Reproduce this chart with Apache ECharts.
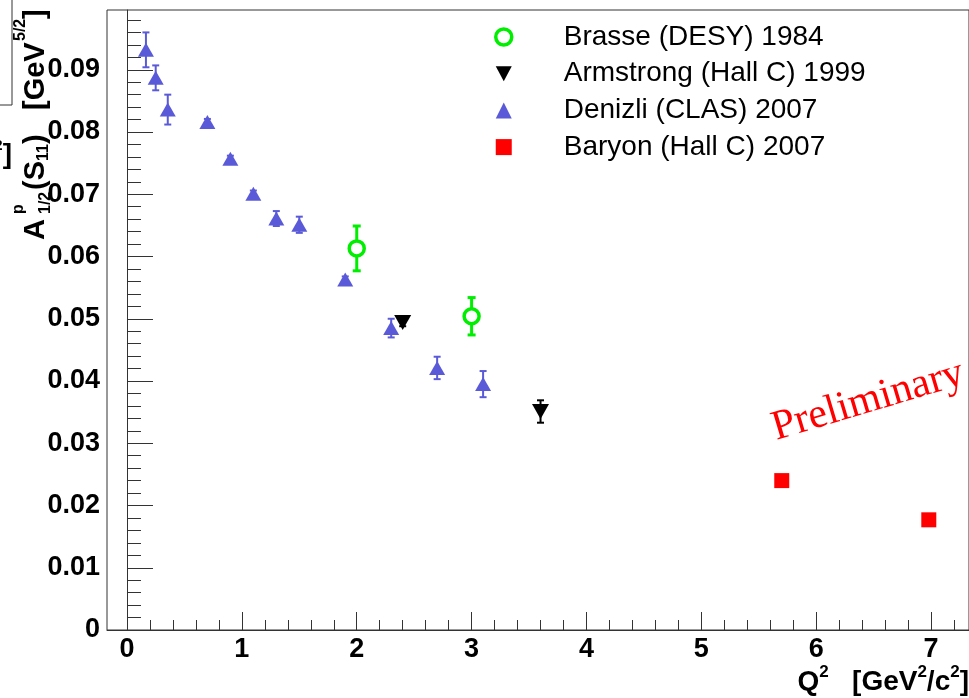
<!DOCTYPE html>
<html><head><meta charset="utf-8">
<script src="https://cdn.jsdelivr.net/npm/echarts@6/dist/echarts.min.js"></script>
<style>html,body{margin:0;padding:0;background:#fff}#c{width:969px;height:698px}</style>
</head><body><div id="c"></div>
<script>
// ---- data (Q^2 in GeV^2/c^2, A_1/2 in GeV^-1/2) ----
const brasseQ2 = [2.0, 3.0];
const brasseA = [0.0613, 0.0504];
const brasseErr = [0.0036, 0.0030];

const armstrongQ2 = [2.4, 3.6];
const armstrongA = [0.0494, 0.0351];
const armstrongErr = [0.0006, 0.0018];

const denizliQ2 = [0.165, 0.25, 0.355, 0.70, 0.90, 1.10, 1.30, 1.50, 1.90, 2.30, 2.70, 3.10];
const denizliA = [0.0932, 0.0887, 0.0836, 0.0816, 0.0757, 0.0701, 0.0661, 0.0651, 0.0563, 0.0485, 0.0421, 0.0395];
const denizliErr = [0.0028, 0.0020, 0.0024, 0.0005, 0.0005, 0.0005, 0.0012, 0.0013, 0.0005, 0.0015, 0.0018, 0.0021];

const baryonQ2 = [5.7, 6.98];
const baryonA = [0.0240, 0.0177];

const seriesNames = ['Brasse (DESY) 1984', 'Armstrong (Hall C) 1999', 'Denizli (CLAS) 2007', 'Baryon (Hall C) 2007'];

const xTickLabels = [0, 1, 2, 3, 4, 5, 6, 7];
const yTickLabels = [0, 0.01, 0.02, 0.03, 0.04, 0.05, 0.06, 0.07, 0.08, 0.09];

// minor ticks (axis decoration)
const xMinor = [];
for (let i = 1; i <= 36; i++) { if (i % 5 !== 0) xMinor.push(+(i * 0.2).toFixed(1)); }
const yMinor = [];
for (let i = 1; i <= 49; i++) { if (i % 5 !== 0) yMinor.push(+(i * 0.002).toFixed(3)); }

const X_MIN = -0.174, X_MAX = 7.33, Y_MIN = 0, Y_MAX = 0.0996;

function zip3(a, b, c) { return a.map((v, i) => [v, b[i], c ? c[i] : 0]); }
function zip2(a, b) { return a.map((v, i) => [v, b[i]]); }

function errorBars(color, width, cap) {
  return function (params, api) {
    const x = api.value(0), y = api.value(1), e = api.value(2);
    const t = api.coord([x, y + e]);
    const b = api.coord([x, y - e]);
    const st = { stroke: color, lineWidth: width };
    return { type: 'group', children: [
      { type: 'line', shape: { x1: t[0], y1: t[1], x2: b[0], y2: b[1] }, style: st },
      { type: 'line', shape: { x1: t[0] - cap, y1: t[1], x2: t[0] + cap, y2: t[1] }, style: st },
      { type: 'line', shape: { x1: b[0] - cap, y1: b[1], x2: b[0] + cap, y2: b[1] }, style: st }
    ]};
  };
}

const BLUE = '#5a5ad9', GREEN = '#00ee00', RED = '#ff0000', BLACK = '#000000';
const FONT = 'Liberation Sans, Arial, Helvetica, sans-serif';
const AX = '#333';

const chart = echarts.init(document.getElementById('c'), null, { renderer: 'canvas' });

const baseX = { type: 'value', min: X_MIN, max: X_MAX, gridIndex: 0, position: 'bottom', splitLine: { show: false } };
const baseY = { type: 'value', min: Y_MIN, max: Y_MAX, gridIndex: 0, position: 'left', splitLine: { show: false } };

const option = {
  animation: false,
  backgroundColor: '#fff',
  grid: { left: 107, right: -1, top: 10, bottom: 68, show: true, borderColor: AX, borderWidth: 1, backgroundColor: 'transparent' },
  xAxis: [
    Object.assign({}, baseX, {
      axisLine: { show: true, lineStyle: { color: AX, width: 1 } },
      axisTick: { show: true, inside: true, length: 18, customValues: xTickLabels, lineStyle: { color: AX, width: 1 } },
      axisLabel: { show: true, customValues: xTickLabels, margin: 6, fontSize: 27, fontWeight: 'bold', fontFamily: FONT, color: '#000' }
    }),
    Object.assign({}, baseX, {
      axisLine: { show: false },
      axisTick: { show: true, inside: true, length: 10, customValues: xMinor, lineStyle: { color: AX, width: 1 } },
      axisLabel: { show: false }
    })
  ],
  yAxis: [
    Object.assign({}, baseY, {
      axisLine: { show: true, lineStyle: { color: AX, width: 1 } },
      axisTick: { show: true, inside: true, length: 26, customValues: yTickLabels, lineStyle: { color: AX, width: 1 } },
      axisLabel: { show: true, customValues: yTickLabels, margin: 7, fontSize: 27, fontWeight: 'bold', fontFamily: FONT, color: '#000',
        formatter: v => (v === 0 ? '0' : v.toFixed(2)) }
    }),
    Object.assign({}, baseY, {
      axisLine: { show: false },
      axisTick: { show: true, inside: true, length: 14, customValues: yMinor, lineStyle: { color: AX, width: 1 } },
      axisLabel: { show: false }
    })
  ],
  legend: {
    orient: 'vertical', left: 489, top: 17, itemWidth: 16, itemHeight: 16, itemGap: 6.7,
    textStyle: { fontSize: 28, fontFamily: FONT, color: '#000', lineHeight: 30, padding: [0, 0, 0, 47] },
    data: [
      { name: seriesNames[0], itemStyle: { borderWidth: 3.5 } },
      { name: seriesNames[1], icon: 'path://M0,0 L16,0 L8,15 Z' },
      { name: seriesNames[2] },
      { name: seriesNames[3] }
    ]
  },
  series: [
    { type: 'custom', name: 'eb-denizli', renderItem: errorBars(BLUE, 2, 3.5), data: zip3(denizliQ2, denizliA, denizliErr), z: 2, silent: true },
    { type: 'custom', name: 'eb-brasse', renderItem: errorBars(GREEN, 3, 4), data: zip3(brasseQ2, brasseA, brasseErr), z: 2, silent: true },
    { type: 'custom', name: 'eb-armstrong', renderItem: errorBars(BLACK, 2, 3.5), data: zip3(armstrongQ2, armstrongA, armstrongErr), z: 2, silent: true },
    { type: 'scatter', name: seriesNames[0], data: zip2(brasseQ2, brasseA), symbol: 'circle', symbolSize: 15,
      itemStyle: { color: '#fff', borderColor: GREEN, borderWidth: 3.5, opacity: 1 }, z: 5 },
    { type: 'scatter', name: seriesNames[1], data: zip2(armstrongQ2, armstrongA), symbol: 'triangle', symbolRotate: 180, symbolSize: [17, 15],
      itemStyle: { color: BLACK, opacity: 1 }, z: 5 },
    { type: 'scatter', name: seriesNames[2], data: zip2(denizliQ2, denizliA), symbol: 'triangle', symbolSize: [16, 14],
      itemStyle: { color: BLUE, opacity: 1 }, z: 5 },
    { type: 'scatter', name: seriesNames[3], data: zip2(baryonQ2, baryonA), symbol: 'rect', symbolSize: 15,
      itemStyle: { color: RED, opacity: 1 }, z: 5 }
  ],
  graphic: [
    // y-axis title, rotated
    { type: 'group', x: 46, y: 240, rotation: Math.PI / 2, children: [
      { type: 'text', x: 0, y: -10, style: { text: 'A', font: 'bold 29px ' + FONT, fill: '#000', verticalAlign: 'middle' } },
      { type: 'text', x: 26, y: -27, style: { text: 'p', font: 'bold 16px ' + FONT, fill: '#000', verticalAlign: 'middle' } },
      { type: 'text', x: 26, y: 0, style: { text: '1/2', font: 'bold 16px ' + FONT, fill: '#000', verticalAlign: 'middle' } },
      { type: 'text', x: 50, y: -10, style: { text: '(S', font: 'bold 29px ' + FONT, fill: '#000', verticalAlign: 'middle' } },
      { type: 'text', x: 79, y: -2, style: { text: '11', font: 'bold 16px ' + FONT, fill: '#000', verticalAlign: 'middle' } },
      { type: 'text', x: 96, y: -10, style: { text: ')', font: 'bold 29px ' + FONT, fill: '#000', verticalAlign: 'middle' } },
      { type: 'text', x: 130, y: -10, style: { text: '[GeV', font: 'bold 29px ' + FONT, fill: '#000', verticalAlign: 'middle' } },
      { type: 'text', x: 199, y: -25, style: { text: '5/2', font: 'bold 16px ' + FONT, fill: '#000', verticalAlign: 'middle' } },
      { type: 'text', x: 221, y: -10, style: { text: ']', font: 'bold 29px ' + FONT, fill: '#000', verticalAlign: 'middle' } }
    ]},
    // x-axis title
    { type: 'text', right: 0, top: 664, style: {
      text: '{b|Q}{s|2}{b|   [GeV}{s|2}{b|/c}{s|2}{b|]}',
      rich: {
        b: { font: 'bold 28px ' + FONT, fill: '#000', lineHeight: 36, verticalAlign: 'middle' },
        s: { font: 'bold 17px ' + FONT, fill: '#000', lineHeight: 16, verticalAlign: 'top' }
      }
    }},
    // Preliminary stamp
    { type: 'text', x: 868, y: 401, rotation: 0.29, style: { text: 'Preliminary', font: '42px Liberation Serif, Times New Roman, serif', fill: RED, align: 'center', verticalAlign: 'middle' }, z: 10 },
    // remnants of a neighbouring pad at the top-left
    { type: 'polyline', shape: { points: [[12, 0], [12, 105], [0, 105]] }, style: { stroke: AX, lineWidth: 1, fill: null } },
    { type: 'text', x: 12, y: 155, style: { text: '{s|2}{b|]}', align: 'right', verticalAlign: 'middle',
      rich: { b: { font: 'bold 28px ' + FONT, fill: '#000', lineHeight: 34, verticalAlign: 'middle' }, s: { font: 'bold 15px ' + FONT, fill: '#000', lineHeight: 15, verticalAlign: 'top' } } } }
  ]
};
chart.setOption(option);
</script></body></html>
